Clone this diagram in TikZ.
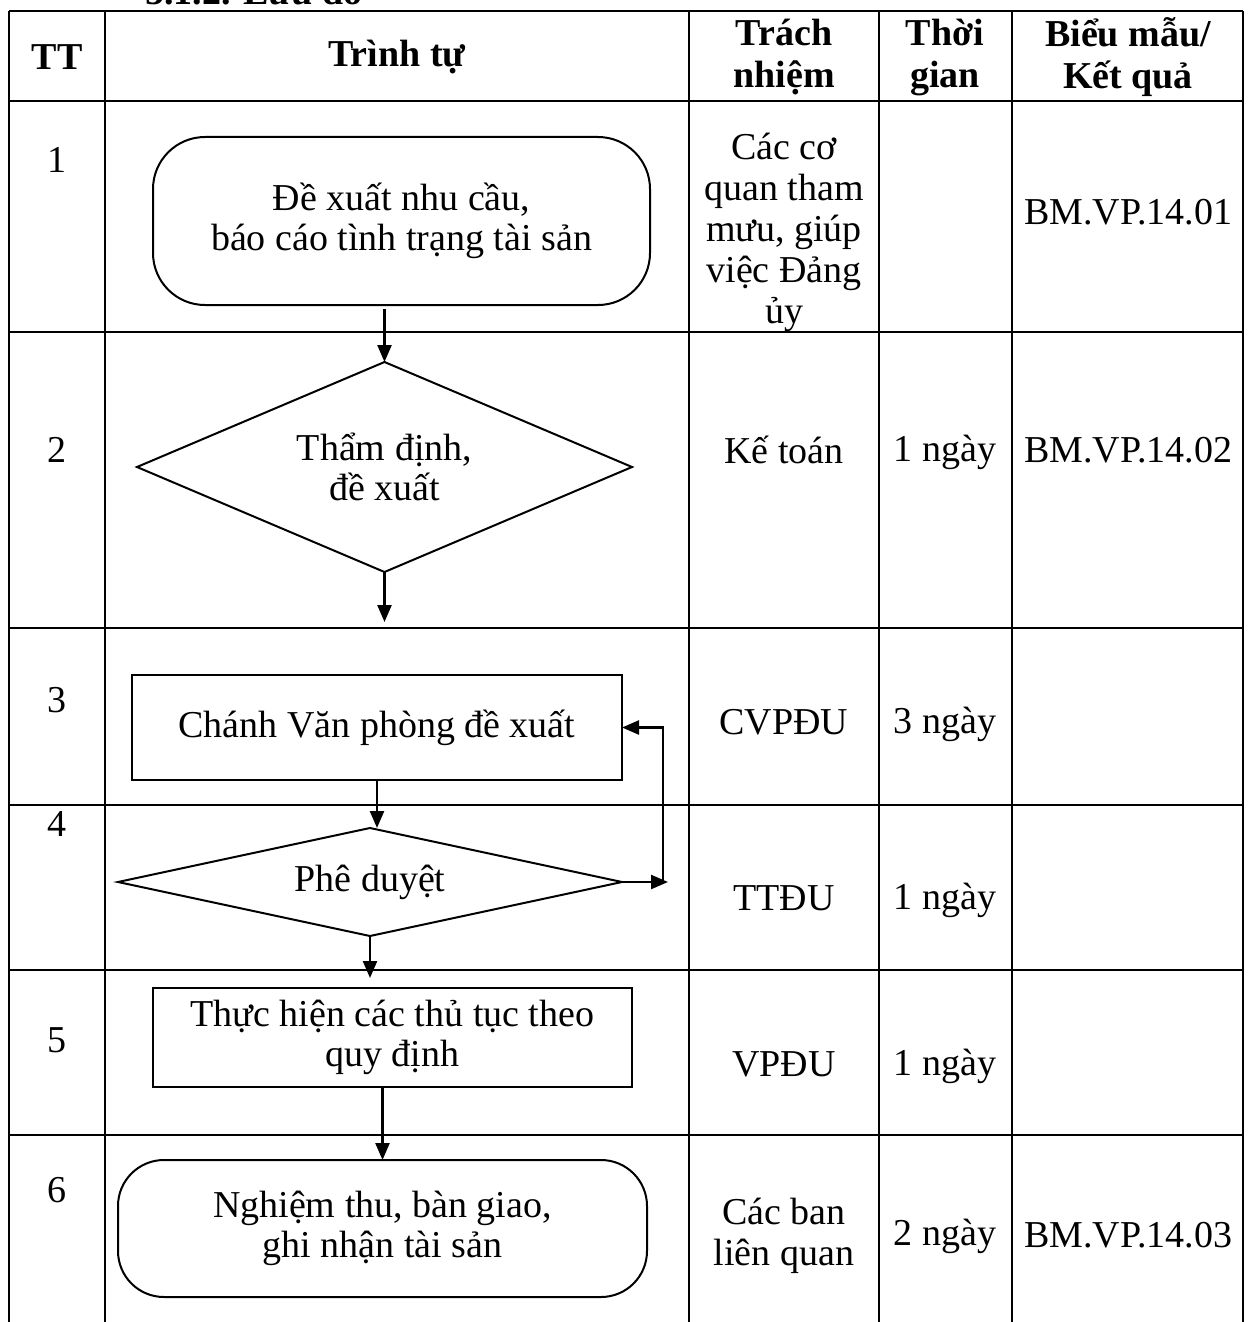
\documentclass[tikz,border=0pt]{standalone}
\usepackage{fontspec}
\setmainfont{Liberation Serif}
\usetikzlibrary{shapes.geometric,arrows.meta}

\begin{document}
\begin{tikzpicture}[x=0.5pt,y=-0.5pt,
  grid/.style={line width=1.4pt},
  txt/.style={font=\fontsize{19}{20.5}\selectfont, align=center, inner sep=0pt},
  head/.style={align=center, inner sep=0pt, font=\fontsize{19}{21}\selectfont\bfseries},
  shp/.style={draw, line width=1pt, inner sep=0pt, outer sep=0pt, align=center,
              font=\fontsize{19}{20}\selectfont},
  term/.style={shp, rectangle},
  proc/.style={shp, rectangle},
  dec/.style={shp, diamond},
  arr/.style={line width=1.2pt, -{Triangle[length=8.5pt,width=7pt]}}
]
\useasboundingbox (0,0) rectangle (1248,1322);
\clip (0,0) rectangle (1248,1322);

% section heading above the table
\node[anchor=base west, inner sep=0pt, font=\fontsize{19}{20}\selectfont\bfseries] (ttl) at (145,5) {5.1.2. Lưu đồ};

% table grid
\foreach \yy in {11,101,332,628,805,970,1135}
  \draw[grid] (9,\yy) -- (1243,\yy);
\foreach \xx in {9,105,689,879,1012,1243}
  \draw[grid] (\xx,11) -- (\xx,1330);

% header
\node[head] (hTT) at (57,57) {TT};
\node[head] (hTr) at (397,57) {Trình tự};
\node[head] (hRe) at (784,57) {Trách\\nhiệm};
\node[head] (hTi) at (945,57) {Thời\\gian};
\node[head] (hFo) at (1128,57) {Biểu mẫu/\\Kết quả};

% step numbers
\node[txt] (n1) at (57,160) {1};
\node[txt] (n2) at (57,450) {2};
\node[txt] (n3) at (57,700) {3};
\node[txt] (n4) at (57,824) {4};
\node[txt] (n5) at (57,1040) {5};
\node[txt] (n6) at (57,1190) {6};

% responsibility
\node[txt] (r1) at (784,232) {Các cơ\\quan tham\\mưu, giúp\\việc Đảng\\ủy};
\node[txt] (r2) at (784,450) {Kế toán};
\node[txt] (r3) at (784,722) {CVPĐU};
\node[txt] (r4) at (784,898) {TTĐU};
\node[txt] (r5) at (784,1064) {VPĐU};
\node[txt] (r6) at (784,1236) {Các ban\\liên quan};

% time
\node[txt] (d2) at (945,452) {1 ngày};
\node[txt] (d3) at (945,724) {3 ngày};
\node[txt] (d4) at (945,900) {1 ngày};
\node[txt] (d5) at (945,1066) {1 ngày};
\node[txt] (d6) at (945,1236) {2 ngày};

% forms / results
\node[txt] (f1) at (1128,212) {BM.VP.14.01};
\node[txt] (f2) at (1128,450) {BM.VP.14.02};
\node[txt] (f6) at (1128,1235) {BM.VP.14.03};

% flowchart
\node[term, rounded corners=26pt, minimum width=248.5pt, minimum height=84pt] (s1) at (401.5,221)
  {Đề xuất nhu cầu,\\báo cáo tình trạng tài sản};
\node[dec, aspect=2.36, minimum width=247.5pt, minimum height=105pt] (s2) at (384.5,467)
  {Thẩm định,\\đề xuất};
\node[proc, minimum width=245pt, minimum height=52.5pt] (s3) at (377,727.5)
  {Chánh Văn phòng đề xuất};
\node[dec, aspect=4.67, minimum width=252pt, minimum height=54pt] (s4) at (370,882)
  {Phê duyệt};
\node[proc, minimum width=239.5pt, minimum height=49.5pt] (s5) at (392.5,1037.5)
  {Thực hiện các thủ tục theo\\quy định};
\node[term, rounded corners=23pt, minimum width=264.5pt, minimum height=68.5pt] (s6) at (382.5,1228.5)
  {Nghiệm thu, bàn giao,\\ghi nhận tài sản};

% free ends of connectors
\coordinate (e2) at (0,622);
\coordinate (e4) at (0,978);
\coordinate (lp) at (668,0);
\coordinate (lq) at (663,0);

\draw[arr, shorten <=2pt] (s2.north |- s1.south) -- (s2.north);
\draw[arr] (s2.south) -- (s2.south |- e2);
\draw[arr] (s3.south) -- (s3.south |- s4.north);
\draw[arr] (s4.east) -- (s4.east -| lp);
\draw[arr] (s4.east -| lq) -- (lq |- s3.east) -- (s3.east);
\draw[arr] (s4.south) -- (s4.south |- e4);
\draw[arr] (s6.north |- s5.south) -- (s6.north);
\end{tikzpicture}
\end{document}
